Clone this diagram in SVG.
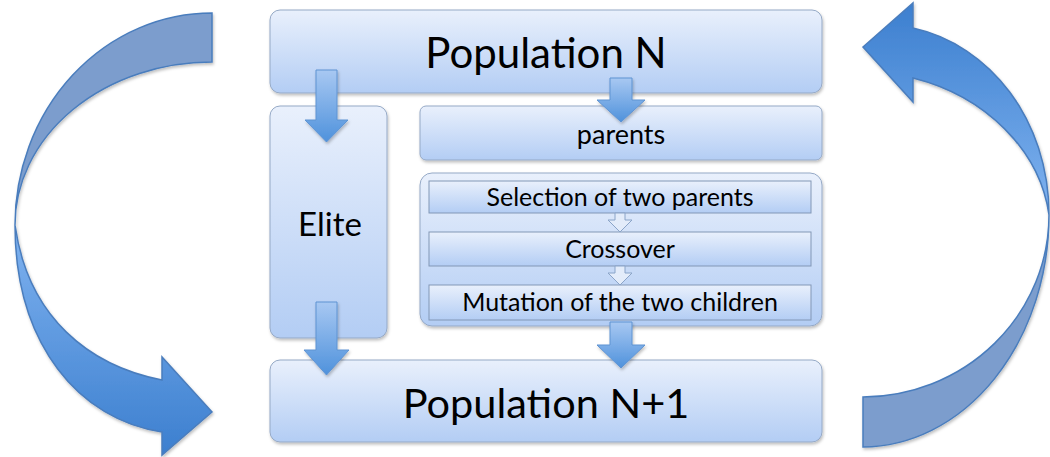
<svg xmlns="http://www.w3.org/2000/svg" width="1050" height="457" viewBox="0 0 1050 457">
<defs>
<linearGradient id="boxG" x1="0" y1="0" x2="0" y2="1">
<stop offset="0" stop-color="#e9f0fc"/><stop offset="1" stop-color="#b3cdf4"/>
</linearGradient>
<linearGradient id="arrG" x1="0" y1="0" x2="0" y2="1">
<stop offset="0" stop-color="#a8c8f2"/><stop offset="1" stop-color="#4f92dc"/>
</linearGradient>
<linearGradient id="leftFront" gradientUnits="userSpaceOnUse" x1="0" y1="225" x2="0" y2="455">
<stop offset="0" stop-color="#80b3f0"/><stop offset="1" stop-color="#3c7fcf"/>
</linearGradient>
<linearGradient id="rightFront" gradientUnits="userSpaceOnUse" x1="0" y1="3" x2="0" y2="215">
<stop offset="0" stop-color="#3c7fcf"/><stop offset="1" stop-color="#80b3f0"/>
</linearGradient>
<filter id="sh" x="-10%" y="-10%" width="120%" height="130%">
<feDropShadow dx="1" dy="2" stdDeviation="1.5" flood-color="#000" flood-opacity="0.25"/>
</filter>
</defs>
<style>
.box{fill:url(#boxG);stroke:#95a9c6;stroke-width:1;filter:url(#sh)}
.inner{fill:url(#boxG);stroke:#8297b6;stroke-width:1}
.arr{fill:url(#arrG);stroke:#5f93d2;stroke-width:1;filter:url(#sh)}
.small{fill:#e3ecfa;stroke:#8aa4c8;stroke-width:1}
.back{fill:#7b9dcd;stroke:#4a7dbd;stroke-width:1.5}
.t{font-family:Lato,"Open Sans",sans-serif;fill:#000;text-anchor:middle}
</style>

<g id="loop-left" filter="url(#sh)">
<path class="back" d="M212,13 A197,212 0 0 0 15,225 A197,163 0 0 1 212,62 Z"/>
<path fill="url(#leftFront)" stroke="#4a7dbd" stroke-width="1.5" d="M15,225 C15,345 80,420 162,432 L162,455 L212,412 L162,357 L162,380 C90,366 28,318 15,225 Z"/>
</g>

<g id="loop-right" filter="url(#sh)">
<path class="back" d="M863,447 A187,232 0 0 0 1049,215 A187,182 0 0 1 863,397 Z"/>
<path fill="url(#rightFront)" stroke="#4a7dbd" stroke-width="1.5" d="M1049,215 C1049,120 990,45 913,28 L913,3 L863,47 L913,102 L913,78 C985,96 1040,150 1049,215 Z"/>
</g>

<g id="population-n">
<rect class="box" x="270" y="10" width="552" height="83" rx="10"/>
<text class="t" x="546" y="68" font-size="42">Population N</text>
</g>

<g id="elite">
<rect class="box" x="270" y="106" width="117" height="232" rx="10"/>
<text class="t" x="330" y="236" font-size="33">Elite</text>
</g>

<g id="parents">
<rect class="box" x="420" y="106" width="402" height="54" rx="6"/>
<text class="t" x="621" y="144" font-size="27">parents</text>
</g>

<g id="operators">
<rect class="box" x="420" y="173" width="402" height="153" rx="12"/>
</g>

<g id="selection">
<rect class="inner" x="429" y="181" width="382" height="32"/>
<text class="t" x="620" y="206" font-size="25">Selection of two parents</text>
</g>

<g id="crossover">
<rect class="inner" x="429" y="232" width="382" height="34"/>
<text class="t" x="620" y="258" font-size="25">Crossover</text>
</g>

<g id="mutation">
<rect class="inner" x="429" y="285" width="382" height="35"/>
<text class="t" x="620" y="311" font-size="25">Mutation of the two children</text>
</g>

<g id="population-n1">
<rect class="box" x="270" y="360" width="552" height="82" rx="10"/>
<text class="t" x="546" y="418" font-size="41.5">Population N+1</text>
</g>

<g id="connectors">
<path class="arr" d="M316,70 H337 V120 H348 L326.5,142 L305,120 H316 Z"/>
<path class="arr" d="M610,78 H632 V100 H645 L621,122 L597,100 H610 Z"/>
<path class="arr" d="M316,302 H337 V350 H349 L326.5,375 L304,350 H316 Z"/>
<path class="arr" d="M610,322 H632 V345 H645 L621,368 L597,345 H610 Z"/>
<path class="small" d="M615,213 H625 V220 H632 L620,232 L608,220 H615 Z"/>
<path class="small" d="M615,266 H625 V273 H632 L620,285 L608,273 H615 Z"/>
</g>
</svg>
